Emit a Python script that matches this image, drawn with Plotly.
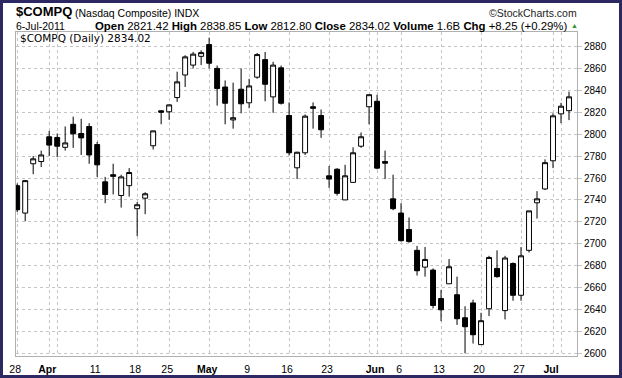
import pandas as pd
import plotly.graph_objects as go

# ---- data ----
holidays = ["2011-04-22", "2011-05-30", "2011-07-04"]
dates = [d.strftime("%Y-%m-%d") for d in pd.bdate_range("2011-03-28", "2011-07-06") if d.strftime("%Y-%m-%d") not in holidays]

opens = [2753, 2728, 2773, 2775, 2797.6, 2797, 2788, 2809, 2800.6, 2807,
         2790.5, 2756.5, 2763, 2744, 2753, 2732, 2741.6, 2789.4, 2821.3, 2820.4,
         2833.4, 2854, 2863, 2871, 2881.7, 2860, 2843, 2813, 2841, 2828.6,
         2852, 2868, 2834, 2860.5, 2817, 2769.3, 2783, 2825, 2817, 2762,
         2768, 2740, 2756, 2789, 2825, 2830, 2775, 2741, 2728, 2713,
         2694, 2678.7, 2676, 2650, 2663.5, 2653.5, 2632.5, 2646, 2608, 2640.7,
         2677.5, 2639, 2682, 2653, 2694, 2737.4, 2750, 2775.7, 2818.5, 2821.42]
highs = [2755, 2758, 2780, 2785, 2803, 2800.6, 2807, 2816, 2814, 2810,
         2793, 2761, 2773, 2763, 2769, 2738, 2747, 2803, 2822, 2827,
         2857, 2872, 2875, 2876.5, 2888, 2862.6, 2849, 2847, 2860, 2850.5,
         2874, 2875, 2866, 2862.6, 2829, 2784, 2818, 2829, 2822.5, 2771,
         2769, 2772, 2788, 2801.5, 2836, 2836, 2785, 2763, 2737, 2724,
         2698, 2697, 2677.5, 2658, 2686, 2670, 2643, 2649, 2637, 2689,
         2694, 2689, 2683, 2697, 2730, 2748, 2777, 2819, 2828.6, 2838.85]
lows = [2729, 2720.6, 2763.5, 2770, 2780, 2779, 2785, 2787.5, 2781, 2773,
        2761, 2737, 2745, 2733, 2743, 2707, 2727, 2786, 2809, 2813,
        2829.5, 2843, 2860, 2863, 2860, 2826, 2809, 2805, 2819, 2823.6,
        2850.5, 2830, 2819.5, 2827, 2780.5, 2759, 2781, 2805, 2796.6, 2751,
        2744, 2740, 2756, 2787.5, 2809, 2768, 2759, 2730.6, 2702, 2701,
        2671, 2670, 2641, 2629.4, 2663.5, 2626, 2600, 2609, 2608, 2634,
        2669, 2631, 2648, 2648, 2692, 2723, 2749, 2769, 2810, 2812.80]
closes = [2731, 2757.6, 2777.5, 2781, 2790, 2789, 2792, 2800.3, 2796.6, 2781,
          2772, 2745, 2761.5, 2761, 2765, 2735.6, 2745.6, 2803, 2820, 2826.7,
          2847.7, 2870.5, 2873, 2874.4, 2864.7, 2841.6, 2828.2, 2815, 2827.7, 2844,
          2872.6, 2845.5, 2863, 2828.2, 2783, 2783.5, 2816.4, 2823.6, 2804, 2759,
          2746, 2762, 2783, 2797.6, 2836, 2769, 2773.5, 2732, 2702.8, 2702,
          2675.4, 2685.7, 2643.7, 2639.8, 2679, 2631.6, 2624.3, 2617, 2629.8, 2687.5,
          2670, 2687, 2653, 2689, 2730, 2741, 2774, 2816.7, 2825.5, 2834.02]

label_dates = ["2011-03-28", "2011-04-01", "2011-04-11", "2011-04-18", "2011-04-25",
               "2011-05-02", "2011-05-09", "2011-05-16", "2011-05-23", "2011-06-01",
               "2011-06-06", "2011-06-13", "2011-06-20", "2011-06-27", "2011-07-01"]
label_text = ["28", "<b>Apr</b>", "11", "18", "25", "<b>May</b>", "9", "16", "23",
              "<b>Jun</b>", "6", "13", "20", "27", "<b>Jul</b>"]
extra_grid_dates = ["2011-04-04", "2011-05-31", "2011-07-05"]
y_ticks = list(range(2600, 2881, 20))

# ---- layout geometry ----
W, H = 622, 378
ML, MR, MT, MB = 16, 45, 32, 22
PW, PH = W - ML - MR, H - MT - MB


def px(x):
    return (x - ML) / PW


def py(y):
    return 1 - (y - MT) / PH


xs = list(range(len(dates)))
tickvals = [dates.index(d) for d in label_dates]
minor_vals = [dates.index(d) for d in extra_grid_dates]

fig = go.Figure()
fig.add_trace(go.Candlestick(
    x=xs, open=opens, high=highs, low=lows, close=closes,
    increasing=dict(line=dict(color="black", width=1), fillcolor="white"),
    decreasing=dict(line=dict(color="black", width=1), fillcolor="black"),
    whiskerwidth=0, showlegend=False, hoverinfo="skip",
))

GRID = "#c4c4c4"
FONT = "Liberation Sans, Arial, sans-serif"

fig.update_layout(
    width=W, height=H,
    margin=dict(l=ML, r=MR, t=MT, b=MB, pad=0, autoexpand=False),
    paper_bgcolor="white", plot_bgcolor="white",
    boxgap=0.12,
    hovermode=False,
    font=dict(family=FONT, size=10.5, color="black"),
    xaxis=dict(
        range=[-0.15, 70.0], rangeslider=dict(visible=False),
        tickmode="array", tickvals=tickvals, ticktext=label_text,
        showgrid=True, gridcolor=GRID, griddash="dot", gridwidth=1,
        ticks="", showline=True, linecolor="#b0b0b0", mirror=True,
        zeroline=False, tickfont=dict(size=10.5, family=FONT),
        ticklabelstandoff=3, ticklabelshift=-2, automargin=False,
        minor=dict(tickmode="array", tickvals=minor_vals, showgrid=True,
                   gridcolor=GRID, griddash="dot", gridwidth=1, ticks=""),
        fixedrange=True,
    ),
    yaxis=dict(
        range=[2597.6, 2893.2], side="right",
        tickmode="array", tickvals=y_ticks, ticktext=[str(v) for v in y_ticks],
        showgrid=True, gridcolor=GRID, griddash="dot", gridwidth=1,
        ticks="outside", ticklen=4, tickcolor=GRID,
        showline=True, linecolor="#b0b0b0", mirror=True, automargin=False,
        zeroline=False, tickfont=dict(size=10, family=FONT),
        fixedrange=True,
    ),
)

ann = []


def add_text(x, y, text, size=10.5, bold=False, anchor="left", color="black", family=FONT):
    t = f"<b>{text}</b>" if bold else text
    ann.append(dict(x=px(x), y=py(y), xref="paper", yref="paper", text=t,
                    showarrow=False, xanchor=anchor, yanchor="middle", borderpad=0,
                    font=dict(size=size, family=family, color=color)))


# header row 1
add_text(15, 11.5, "$COMPQ", size=13, bold=True)
add_text(74, 12.5, "(Nasdaq Composite) INDX", size=10.5)
add_text(578, 12.5, "©StockCharts.com", size=10.5, anchor="right", color="#222222")
# header row 2
add_text(15, 26, "6-Jul-2011", size=10.5)
row2 = ("<b>Open</b> 2821.42 <b>High</b> 2838.85 <b>Low</b> 2812.80 "
        "<b>Close</b> 2834.02 <b>Volume</b> 1.6B <b>Chg</b> +8.25 (+0.29%)")
add_text(94, 26, row2, size=11.4)
add_text(570, 26, "▲", size=7, color="#2f8f2f")
# in-plot legend
add_text(19, 38.5, "$COMPQ (Daily) 2834.02", size=10.5, family="DejaVu Sans, sans-serif")

fig.update_layout(annotations=ann)

# dark outer frame
fig.add_shape(type="rect", xref="paper", yref="paper",
              x0=px(0), x1=px(W), y0=py(H), y1=py(0),
              line=dict(color="#2c2862", width=6), fillcolor="rgba(0,0,0,0)", layer="above")

fig.write_html("out.html", config={"displayModeBar": False},
               post_script="document.body.style.margin='0';document.body.style.padding='0';")
